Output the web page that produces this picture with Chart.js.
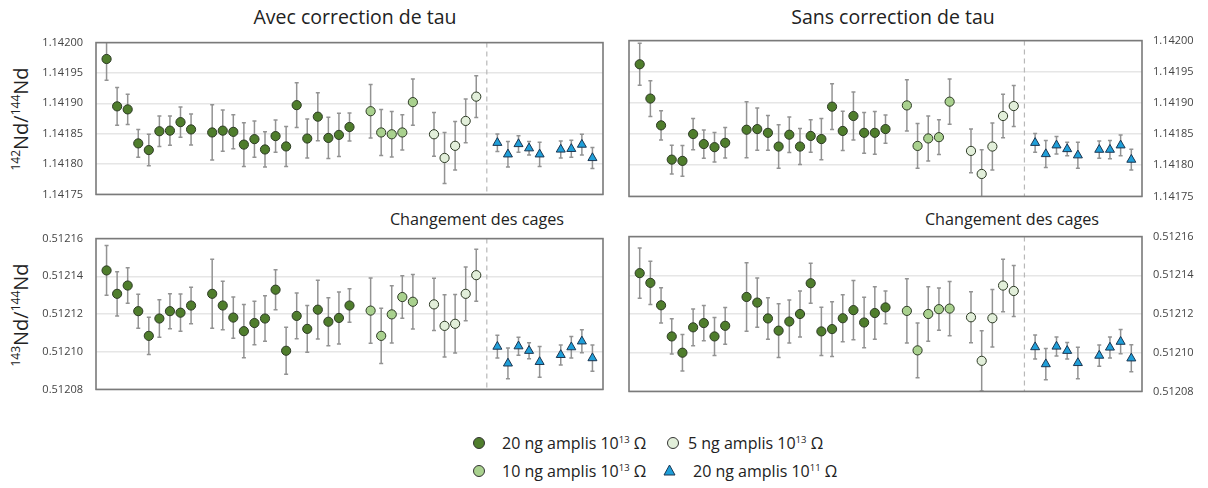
<!DOCTYPE html>
<html>
<head>
<meta charset="utf-8">
<script src="https://cdn.jsdelivr.net/npm/chart.js@4"></script>
<style>
  html,body{margin:0;padding:0;background:#fff;}
  body{width:1208px;height:488px;position:relative;overflow:hidden;font-family:'Open Sans',sans-serif;color:#222;}
  canvas{position:absolute;}
  .t{position:absolute;white-space:nowrap;transform:translate(-50%,-50%);}
  .yt{position:absolute;white-space:nowrap;font-size:20px;transform:translate(-50%,-50%) rotate(-90deg);}
  .yt sup{font-size:12px;vertical-align:8px;line-height:0;}
  .lg{position:absolute;white-space:nowrap;font-size:16px;transform:translateY(-50%);}
  .lg sup{font-size:9.5px;vertical-align:6px;line-height:0;}
  .mk{position:absolute;width:10px;height:10px;border-radius:50%;border:1px solid #333;transform:translate(-50%,-50%);}
</style>
</head>
<body>
<div class="t" style="left:355px;top:16px;font-size:19.5px;">Avec correction de tau</div>
<div class="t" style="left:893px;top:16px;font-size:19.5px;">Sans correction de tau</div>
<div class="t" style="left:477px;top:219px;font-size:16.2px;">Changement des cages</div>
<div class="t" style="left:1012px;top:219px;font-size:16.2px;">Changement des cages</div>
<div class="yt" style="left:20px;top:119px;"><sup>142</sup>Nd/<sup>144</sup>Nd</div>
<div class="yt" style="left:20px;top:315px;"><sup>143</sup>Nd/<sup>144</sup>Nd</div>

<canvas id="tl" width="610" height="191" style="left:0;top:23px;"></canvas>
<canvas id="tr" width="588" height="191" style="left:620px;top:23px;"></canvas>
<canvas id="bl" width="610" height="190" style="left:0;top:219px;"></canvas>
<canvas id="br" width="588" height="190" style="left:620px;top:219px;"></canvas>

<div class="mk" style="left:479px;top:443px;background:#4f7d2c;"></div>
<div class="lg" style="left:502px;top:443px;">20 ng amplis 10<sup>13</sup> Ω</div>
<div class="mk" style="left:673px;top:443px;background:#e2efda;"></div>
<div class="lg" style="left:688px;top:443px;">5 ng amplis 10<sup>13</sup> Ω</div>
<div class="mk" style="left:479px;top:471px;background:#a9d18e;"></div>
<div class="lg" style="left:502px;top:471px;">10 ng amplis 10<sup>13</sup> Ω</div>
<svg style="position:absolute;left:663px;top:464px;" width="13" height="12"><polygon points="6.5,1 12,11 1,11" fill="#1f9fd9" stroke="#1c3550" stroke-width="1"/></svg>
<div class="lg" style="left:693px;top:471px;">20 ng amplis 10<sup>11</sup> Ω</div>

<script>
// ---- x positions (measurement slots) ----
const slots20ng13 = [0,1,2,3,4,5,6,7,8,10,11,12,13,14,15,16,17,18,19,20,21,22,23];
const slots10ng13 = [25,26,27,28,29];
const slots5ng13  = [31,32,33,34,35];
const slots20ng11 = [37,38,39,40,41,43,44,45,46];
const changeSlot = 36;              // "Changement des cages"
const ERR_UNIT = 1e-5;              // error arrays are given in units of 1e-5

// ---- tick labels ----
const ticks142 = [1.14175,1.14180,1.14185,1.14190,1.14195,1.14200];
const ticks143 = [0.51208,0.51210,0.51212,0.51214,0.51216];

// ---- 142Nd/144Nd, avec correction de tau ----
const tlDark = [1.141973,1.141895,1.141890,1.141834,1.141823,1.141854,1.141855,1.141869,1.141857,1.141852,1.141855,1.141853,1.141832,1.141841,1.141824,1.141846,1.141829,1.141897,1.141842,1.141878,1.141843,1.141848,1.141861];
const tlDarkErr = [3.5,3.1,2.5,2.3,2.6,2.5,2.4,2.5,2.55,4.55,3.4,2.8,3.6,3.0,2.9,2.66,3.3,3.7,3.2,3.95,3.4,3.56,2.3];
const tlLight = [1.141887,1.141852,1.141849,1.141852,1.141902];
const tlLightErr = [4.4,3.8,3.76,2.9,3.8];
const tlPale = [1.141849,1.141810,1.141830,1.141871,1.141911];
const tlPaleErr = [3.6,4.2,4.0,3.6,3.45];
const tlTri = [1.141835,1.141816,1.141833,1.141826,1.141816,1.141824,1.141825,1.141832,1.141810];
const tlTriErr = [1.44,2.1,1.37,1.1,2.0,1.4,1.4,1.7,1.73];

// ---- 142Nd/144Nd, sans correction de tau ----
const trDark = [1.141962,1.141907,1.141864,1.141809,1.141807,1.141850,1.141834,1.141829,1.141836,1.141857,1.141858,1.141852,1.141830,1.141849,1.141830,1.141847,1.141842,1.141894,1.141855,1.141879,1.141852,1.141852,1.141858];
const trDarkErr = [3.37,2.86,2.34,2.3,2.46,2.5,2.27,2.37,2.44,4.5,3.4,2.8,3.5,2.86,2.88,2.6,3.3,3.66,3.15,3.86,3.27,3.44,2.27];
const trLight = [1.141896,1.141831,1.141843,1.141845,1.141902];
const trLightErr = [4.1,3.6,3.6,2.78,3.64];
const trPale = [1.141823,1.141786,1.141830,1.141879,1.141895];
const trPaleErr = [3.5,3.9,3.76,3.5,3.3];
const trTri = [1.141836,1.141818,1.141832,1.141826,1.141816,1.141825,1.141825,1.141832,1.141809];
const trTriErr = [1.5,2.17,1.4,1.07,2.1,1.37,1.46,1.66,1.68];

// ---- 143Nd/144Nd, avec correction de tau ----
const blDark = [0.5121431,0.5121307,0.5121351,0.5121215,0.5121084,0.5121176,0.5121215,0.5121207,0.5121245,0.5121307,0.5121245,0.5121181,0.5121109,0.5121152,0.5121176,0.5121329,0.5121005,0.5121190,0.5121121,0.5121223,0.5121159,0.5121179,0.5121245];
const blDarkErr = [1.32,1.17,0.94,0.9,0.99,0.99,0.93,0.99,0.97,1.83,1.29,1.09,1.41,1.15,1.21,1.06,1.25,1.21,1.24,1.56,1.27,1.38,0.89];
const blLight = [0.5121218,0.5121084,0.5121198,0.5121290,0.5121265];
const blLightErr = [1.73,1.46,1.52,1.13,1.44];
const blPale = [0.5121251,0.5121137,0.5121148,0.5121307,0.5121406];
const blPaleErr = [1.38,1.65,1.55,1.43,1.38];
const blTri = [0.5121027,0.5120938,0.5121029,0.5121005,0.5120946,0.5120983,0.5121024,0.5121055,0.5120966];
const blTriErr = [0.6,0.81,0.48,0.42,0.81,0.53,0.57,0.61,0.7];

// ---- 143Nd/144Nd, sans correction de tau ----
const brDark = [0.5121411,0.5121361,0.5121245,0.5121084,0.5121000,0.5121131,0.5121153,0.5121084,0.5121139,0.5121288,0.5121259,0.5121177,0.5121114,0.5121161,0.5121200,0.5121359,0.5121110,0.5121122,0.5121178,0.5121220,0.5121156,0.5121205,0.5121234];
const brDarkErr = [1.3,1.12,0.91,0.91,0.94,0.95,0.91,0.98,0.95,1.77,1.27,1.07,1.39,1.11,1.19,1.03,1.25,1.41,1.21,1.53,1.3,1.36,0.85];
const brLight = [0.5121216,0.5121012,0.5121200,0.5121225,0.5121228];
const brLightErr = [1.66,1.41,1.41,1.09,1.4];
const brPale = [0.5121183,0.5120958,0.5121178,0.5121347,0.5121319];
const brPaleErr = [1.32,1.56,1.48,1.36,1.32];
const brTri = [0.5121029,0.5120941,0.5121032,0.5121010,0.5120947,0.5120985,0.5121027,0.5121057,0.5120971];
const brTriErr = [0.62,0.81,0.49,0.43,0.81,0.55,0.54,0.63,0.7];

Chart.defaults.font.family = "'Open Sans', sans-serif";

const panelPlugin = {
  id: 'panel',
  beforeDatasetsDraw(chart) {
    const {ctx, chartArea: a, scales: {x, y}} = chart;
    ctx.save();
    const xd = x.getPixelForValue(changeSlot);
    ctx.strokeStyle = '#b8b8b8'; ctx.lineWidth = 1.2; ctx.setLineDash([5, 4]);
    ctx.beginPath(); ctx.moveTo(xd, a.top); ctx.lineTo(xd, a.bottom); ctx.stroke();
    ctx.setLineDash([]);
    ctx.beginPath(); ctx.rect(a.left, a.top, a.width, a.height); ctx.clip();
    ctx.strokeStyle = '#939393'; ctx.lineWidth = 1.5;
    chart.data.datasets.forEach(ds => {
      ds.data.forEach((p, i) => {
        const e = ds.err[i] * ERR_UNIT;
        const px = x.getPixelForValue(p.x);
        const y1 = y.getPixelForValue(p.y + e), y2 = y.getPixelForValue(p.y - e);
        ctx.beginPath();
        ctx.moveTo(px, y1); ctx.lineTo(px, y2);
        ctx.moveTo(px - 2, y1); ctx.lineTo(px + 2, y1);
        ctx.moveTo(px - 2, y2); ctx.lineTo(px + 2, y2);
        ctx.stroke();
      });
    });
    ctx.restore();
  },
  afterDraw(chart) {
    const {ctx, chartArea: a} = chart;
    ctx.save();
    ctx.strokeStyle = '#7a7a7a'; ctx.lineWidth = 1.6;
    ctx.strokeRect(a.left, a.top, a.width, a.height);
    ctx.restore();
  }
};

function pts(slots, vals) { return slots.map((s, i) => ({x: s, y: vals[i]})); }

function makeChart(id, side, yTicks, series) {
  const [dark, darkErr, light, lightErr, pale, paleErr, tri, triErr] = series;
  const circ = {pointStyle: 'circle', pointRadius: 4.6, pointHoverRadius: 4.6, pointBorderWidth: 1, pointBorderColor: '#2d3a25', showLine: false};
  return new Chart(document.getElementById(id), {
    type: 'scatter',
    data: {
      datasets: [
        Object.assign({label: '20 ng amplis 10^13 Ω', data: pts(slots20ng13, dark), err: darkErr, pointBackgroundColor: '#4f7d2c'}, circ),
        Object.assign({label: '10 ng amplis 10^13 Ω', data: pts(slots10ng13, light), err: lightErr, pointBackgroundColor: '#a9d18e'}, circ),
        Object.assign({label: '5 ng amplis 10^13 Ω', data: pts(slots5ng13, pale), err: paleErr, pointBackgroundColor: '#e2efda'}, circ),
        {label: '20 ng amplis 10^11 Ω', data: pts(slots20ng11, tri), err: triErr, pointStyle: 'triangle', pointRadius: 5.2, pointHoverRadius: 5.2,
         pointBackgroundColor: '#1f9fd9', pointBorderColor: '#1c3550', pointBorderWidth: 1, showLine: false}
      ]
    },
    options: {
      responsive: false, animation: false, devicePixelRatio: 1,
      layout: {padding: side === 'left' ? {left: 0, right: 7, top: 10, bottom: 10} : {left: 9, right: 0, top: 10, bottom: 10}},
      plugins: {legend: {display: false}, tooltip: {enabled: false}},
      scales: {
        x: {type: 'linear', min: -1, max: 47, display: false},
        y: {
          type: 'linear', position: side, min: yTicks[0], max: yTicks[yTicks.length - 1],
          afterFit: s => { s.width = side === 'left' ? 96 : 66; },
          afterBuildTicks: s => { s.ticks = yTicks.map(v => ({value: v})); },
          grid: {color: '#e6e6e6', lineWidth: 1.5, drawTicks: false},
          border: {display: false},
          ticks: {padding: side === 'left' ? 13 : 11, color: '#444', font: {size: 11},
                  callback: v => v.toFixed(5)}
        }
      }
    },
    plugins: [panelPlugin]
  });
}

makeChart('tl', 'left', ticks142, [tlDark, tlDarkErr, tlLight, tlLightErr, tlPale, tlPaleErr, tlTri, tlTriErr]);
makeChart('tr', 'right', ticks142, [trDark, trDarkErr, trLight, trLightErr, trPale, trPaleErr, trTri, trTriErr]);
makeChart('bl', 'left', ticks143, [blDark, blDarkErr, blLight, blLightErr, blPale, blPaleErr, blTri, blTriErr]);
makeChart('br', 'right', ticks143, [brDark, brDarkErr, brLight, brLightErr, brPale, brPaleErr, brTri, brTriErr]);
</script>
</body>
</html>
